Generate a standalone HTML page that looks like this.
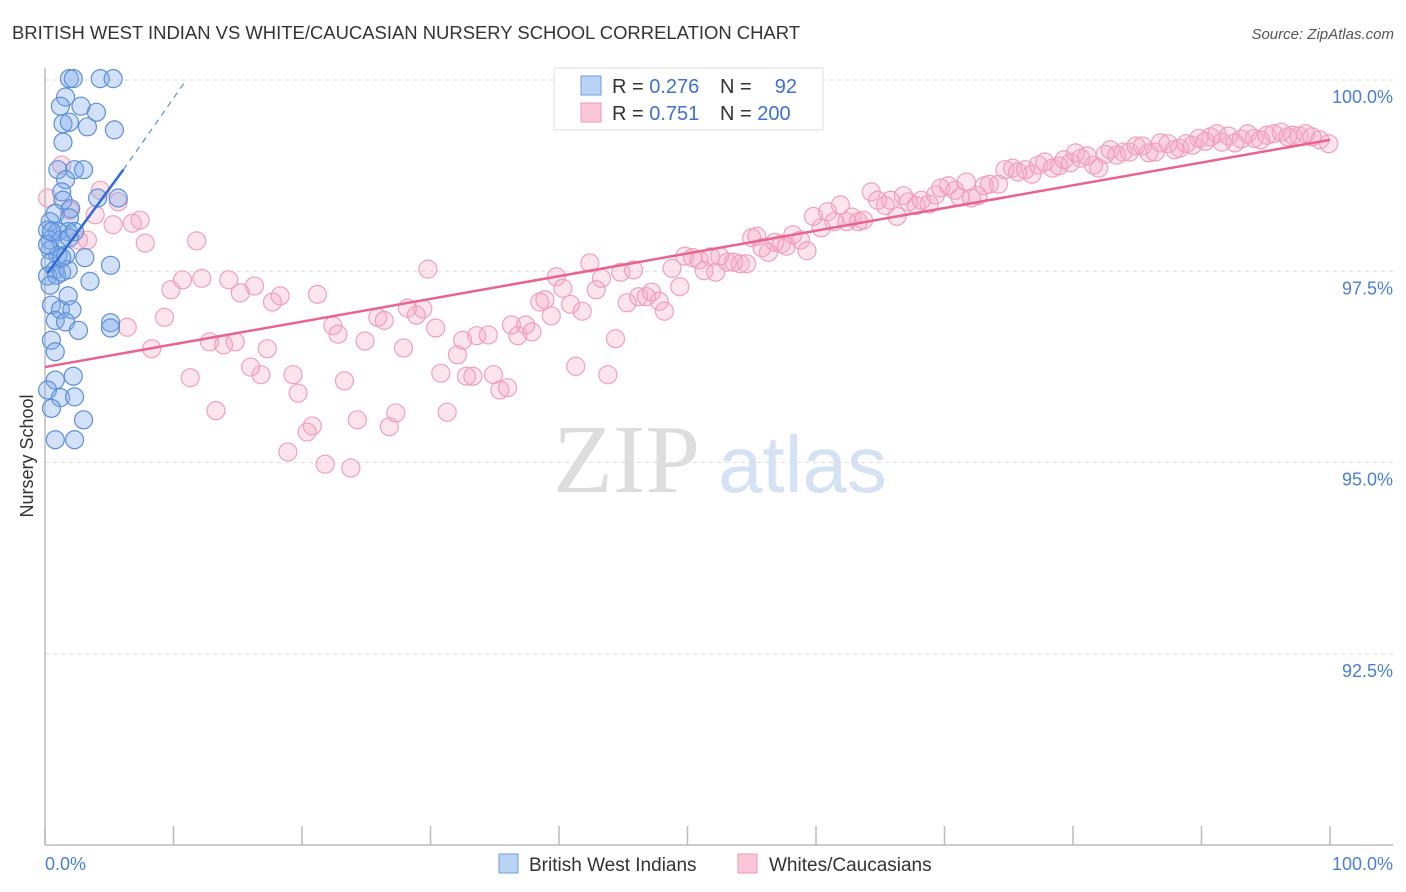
<!DOCTYPE html>
<html><head><meta charset="utf-8">
<style>
body{margin:0;background:#fff;font-family:"Liberation Sans",sans-serif;}
#wrap{position:relative;width:1406px;height:892px;overflow:hidden;}
svg{position:absolute;left:0;top:0;}
</style></head>
<body>
<div id="wrap">
<svg id="chart" width="1406" height="892">
  <text x="12" y="39" font-size="18" fill="#333" textLength="788" lengthAdjust="spacingAndGlyphs">BRITISH WEST INDIAN VS WHITE/CAUCASIAN NURSERY SCHOOL CORRELATION CHART</text>
  <text x="1394" y="39" font-size="15" fill="#555" font-style="italic" text-anchor="end">Source: ZipAtlas.com</text>
  <text transform="translate(33,456) rotate(-90)" font-size="18" fill="#333" text-anchor="middle">Nursery School</text>
  <g>
    <text x="553" y="492" font-size="98" font-family="Liberation Serif,serif" fill="#ddd">ZIP</text>
    <text x="718" y="492" font-size="80" fill="#d4e2f4">atlas</text>
  </g>
  <g id="grid"></g>
  <g id="axes"></g>
  <g id="pink"></g>
  <g id="blue"></g>
  <g id="lines"></g>
  <g>
    <rect x="554" y="68" width="269" height="62" fill="#fff" stroke="#ddd"/>
    <rect x="581" y="76" width="20" height="19" fill="#b9d3f5" stroke="#6f9de0"/>
    <rect x="581" y="103" width="20" height="19" fill="#fbc7d6" stroke="#ef97b3"/>
    <text x="612" y="93" font-size="20" fill="#333">R = <tspan fill="#3d70d0">0.276</tspan></text>
    <text x="720" y="93" font-size="20" fill="#333">N = <tspan x="797" text-anchor="end" fill="#3d70d0">92</tspan></text>
    <text x="612" y="120" font-size="20" fill="#333">R = <tspan fill="#3d70d0">0.751</tspan></text>
    <text x="720" y="120" font-size="20" fill="#333">N = <tspan fill="#3d70d0">200</tspan></text>
  </g>
  <g>
    <rect x="499" y="854" width="19" height="19" fill="#b9d3f5" stroke="#6f9de0"/>
    <text x="529" y="871" font-size="19" fill="#333">British West Indians</text>
    <rect x="738" y="854" width="19" height="19" fill="#fbc7d6" stroke="#ef97b3"/>
    <text x="769" y="871" font-size="19" fill="#333">Whites/Caucasians</text>
  </g>
</svg>
</div>
<script>
const yTicks=[100,97.5,95,92.5];
const yTickLabels=["100.0%","97.5%","95.0%","92.5%"];
const xTickVals=[0,10,20,30,40,50,60,70,80,90,100];
const xEndLabels=["0.0%","100.0%"];
const blueX=[1.9,2.2,4.3,5.3,1.6,1.2,2.8,4.0,1.4,1.9,3.3,1.4,5.4,2.3,1.0,1.6,3.0,1.3,4.1,5.7,1.4,2.0,0.8,1.9,0.4,0.2,1.0,1.8,2.3,0.4,1.2,1.9,0.4,1.0,1.6,3.1,5.1,0.4,0.8,0.2,0.9,1.3,1.8,3.5,1.8,0.5,1.2,2.1,0.8,1.6,2.6,5.1,5.1,0.5,0.8,0.8,2.2,0.2,1.2,2.3,0.5,3.0,0.8,2.3,0.4,0.2,1.3,0.5];
const blueY=[100.24,100.24,100.24,100.24,100.0,99.88,99.88,99.80,99.65,99.67,99.61,99.41,99.57,99.05,99.05,98.92,99.05,98.76,98.68,98.68,98.65,98.54,98.48,98.42,98.37,98.26,98.24,98.24,98.24,98.13,98.13,98.16,98.00,97.93,97.93,97.90,97.80,97.83,97.74,97.66,97.67,97.71,97.74,97.59,97.40,97.28,97.22,97.22,97.08,97.06,96.95,97.05,96.98,96.82,96.67,96.30,96.35,96.17,96.07,96.08,95.93,95.78,95.52,95.52,97.54,98.07,97.90,98.24];
const pinkX=[0.2,1.3,1.9,4.3,5.7,3.9,5.3,6.8,7.4,3.3,2.6,7.8,11.8,6.4,8.3,9.3,9.8,10.7,11.3,12.2,12.8,13.3,13.9,14.3,14.8,15.2,16.0,16.3,16.8,17.3,17.7,18.3,19.3,19.7,18.9,20.4,20.8,21.2,21.8,22.4,22.8,23.3,23.8,24.3,24.9,25.9,26.4,26.8,27.3,27.9,28.2,28.9,29.4,29.8,30.4,30.8,31.3,32.1,32.5,32.8,33.3,33.6,34.5,34.9,35.4,36.0,36.3,36.8,37.4,37.9,38.5,38.9,39.4,39.8,40.3,40.9,41.3,41.8,42.4,42.9,43.3,43.8,44.4,44.8,45.3,45.8,46.2,46.8,47.2,47.8,48.2,48.8,49.4,49.8,50.4,50.9,51.3,51.8,52.2,52.5,53.1,53.6,54.1,54.6,55.0,55.4,55.8,56.3,56.8,57.3,57.7,58.2,58.8,59.3,59.8,60.4,60.9,61.4,61.9,62.4,62.8,63.3,63.7,64.3,64.8,65.4,65.8,66.3,66.8,67.2,67.8,68.2,68.8,69.3,69.7,70.3,70.8,71.2,71.7,72.1,72.6,73.1,73.5,74.2,74.7,75.3,75.7,76.3,76.8,77.3,77.8,78.4,78.9,79.3,79.8,80.2,80.6,81.1,81.6,82.0,82.5,82.9,83.4,83.9,84.4,84.9,85.4,85.9,86.4,86.8,87.4,87.9,88.3,88.8,89.3,89.8,90.3,90.7,91.2,91.6,92.1,92.6,93.1,93.6,94.1,94.6,95.1,95.6,96.2,96.7,97.1,97.6,98.1,98.6,99.2,99.9];
const pinkY=[98.68,99.11,98.52,98.78,98.63,98.46,98.33,98.35,98.39,98.13,98.13,98.09,98.12,96.99,96.71,97.12,97.48,97.61,96.33,97.63,96.80,95.90,96.76,97.61,96.80,97.44,96.47,97.53,96.37,96.71,97.32,97.40,96.37,96.13,95.36,95.62,95.70,97.42,95.20,97.01,96.90,96.29,95.15,95.78,96.81,97.12,97.08,95.69,95.87,96.72,97.24,97.15,97.23,97.75,96.98,96.39,95.88,96.63,96.82,96.35,96.35,96.88,96.89,96.37,96.17,96.20,97.02,96.88,97.02,96.93,97.32,97.35,97.14,97.65,97.50,97.29,96.48,97.20,97.83,97.48,97.63,96.37,96.84,97.71,97.31,97.74,97.39,97.39,97.45,97.33,97.20,97.76,97.52,97.92,97.90,97.87,97.73,97.91,97.71,97.92,97.84,97.84,97.82,97.82,98.16,98.18,98.03,97.97,98.10,98.08,98.05,98.20,98.13,97.99,98.44,98.29,98.50,98.37,98.59,98.37,98.43,98.37,98.39,98.76,98.65,98.58,98.65,98.44,98.71,98.63,98.58,98.65,98.60,98.72,98.81,98.84,98.78,98.69,98.89,98.68,98.71,98.84,98.86,98.86,99.05,99.07,99.02,99.05,98.99,99.11,99.15,99.07,99.10,99.18,99.14,99.27,99.20,99.23,99.11,99.07,99.25,99.31,99.24,99.28,99.28,99.36,99.36,99.27,99.28,99.40,99.39,99.31,99.33,99.39,99.37,99.46,99.42,99.48,99.52,99.41,99.49,99.40,99.45,99.52,99.46,99.44,99.50,99.52,99.54,99.48,99.50,99.49,99.52,99.48,99.44,99.39];
const pinkTrend=[[0,96.47],[100,99.44]];
const blueTrendSolid=[[0.2,97.7],[6.1,99.05]];
const blueTrendDash=[[6.1,99.05],[10.9,100.2]];

const NS="http://www.w3.org/2000/svg";
const xS=v=>45+v*12.85;
const yS=v=>97+(100-v)*76.5;
function mk(tag,attrs,parent){const e=document.createElementNS(NS,tag);for(const k in attrs)e.setAttribute(k,attrs[k]);parent.appendChild(e);return e;}
const grid=document.getElementById('grid'),axes=document.getElementById('axes');
yTicks.forEach((t,i)=>{
  const gy=yS(t)-17;
  const l=mk('line',{x1:45,x2:1393,y1:gy,y2:gy,stroke:'#ddd','stroke-dasharray':'4,4'},grid);
  
  
  const tx=mk('text',{x:1393,y:yS(t)+6,'font-size':18,fill:'#4a7fd4','text-anchor':'end'},axes);
  tx.textContent=yTickLabels[i];
  
  
});
let a=mk('line',{x1:45,x2:45,y1:68,y2:845,stroke:'#bbb','stroke-width':1.5},axes);


a=mk('line',{x1:45,x2:1393,y1:845,y2:845,stroke:'#bbb','stroke-width':1.5},axes);


xTickVals.forEach(v=>{
  const t=mk('line',{x1:xS(v),x2:xS(v),y1:826,y2:845,stroke:'#bbb','stroke-width':1.5},axes);
  
  
});
let xl=mk('text',{x:45,y:870,'font-size':18,fill:'#4a7fd4'},axes);xl.textContent=xEndLabels[0];


xl=mk('text',{x:1393,y:870,'font-size':18,fill:'#4a7fd4','text-anchor':'end'},axes);xl.textContent=xEndLabels[1];



const pg=document.getElementById('pink');
pinkX.forEach((x,i)=>{
  const c=mk('circle',{cx:xS(x),cy:yS(pinkY[i]),r:9,fill:'rgba(245,165,195,0.3)',stroke:'#f0a0bb','stroke-width':1.2},pg);
  
  
});
const bg=document.getElementById('blue');
blueX.forEach((x,i)=>{
  const c=mk('circle',{cx:xS(x),cy:yS(blueY[i]),r:9,fill:'rgba(125,170,232,0.35)',stroke:'#5b8fd8','stroke-width':1.2},bg);
  
  
});
const lg=document.getElementById('lines');
let ln=mk('line',{x1:xS(pinkTrend[0][0]),y1:yS(pinkTrend[0][1]),x2:xS(pinkTrend[1][0]),y2:yS(pinkTrend[1][1]),stroke:'#e8648e','stroke-width':2.5},lg);


ln=mk('line',{x1:xS(blueTrendSolid[0][0]),y1:yS(blueTrendSolid[0][1]),x2:xS(blueTrendSolid[1][0]),y2:yS(blueTrendSolid[1][1]),stroke:'#2f6ad6','stroke-width':2.5},lg);


ln=mk('line',{x1:xS(blueTrendDash[0][0]),y1:yS(blueTrendDash[0][1]),x2:xS(blueTrendDash[1][0]),y2:yS(blueTrendDash[1][1]),stroke:'#5b8fd8','stroke-width':1.2,'stroke-dasharray':'6,5'},lg);


</script>
</body></html>
